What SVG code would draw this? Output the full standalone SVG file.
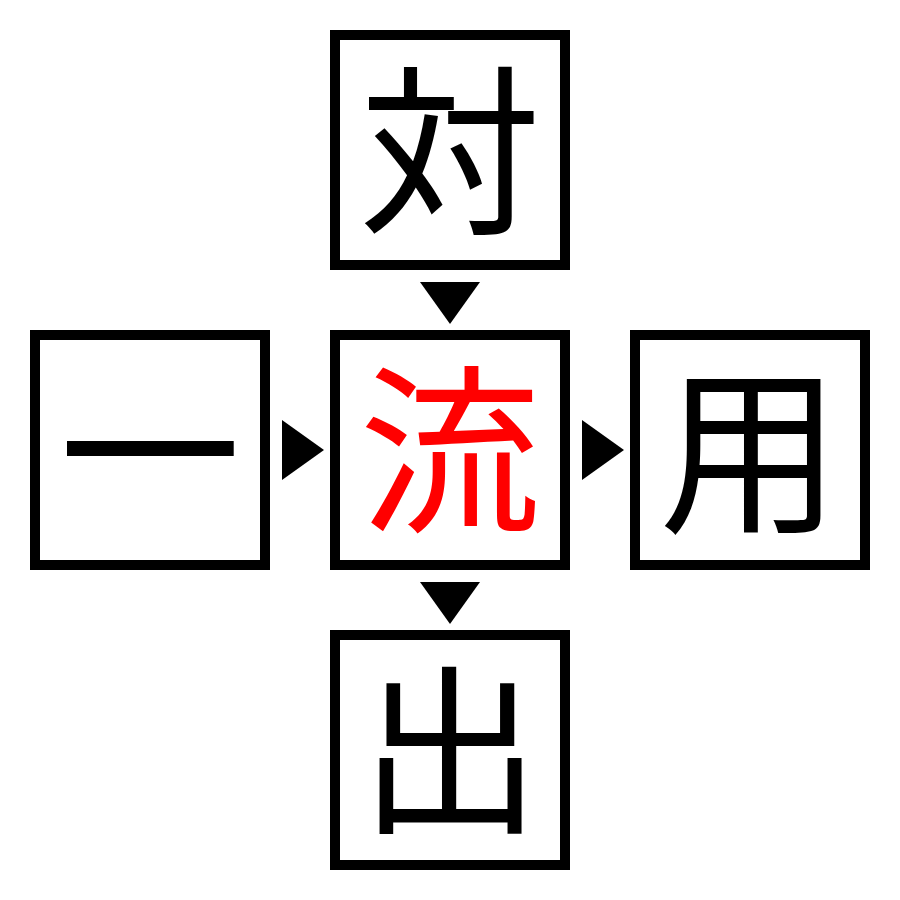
<svg xmlns="http://www.w3.org/2000/svg" width="900" height="900" viewBox="0 0 900 900">
<style>
.box{fill:#fff;stroke:#000;stroke-width:10}
.ch{font-family:"Noto Sans CJK JP","Noto Sans CJK SC",sans-serif;font-size:182px;text-anchor:middle;fill:#000}
.red{fill:#ff0000}
.arr{fill:#000}
</style>
<rect width="900" height="900" fill="#fff"/>
<g id="node-top"><rect class="box" x="335" y="35" width="230" height="230"/><text class="ch" x="450" y="220">対</text></g>
<g id="node-left"><rect class="box" x="35" y="335" width="230" height="230"/><text class="ch" x="150" y="519">一</text></g>
<g id="node-center"><rect class="box" x="335" y="335" width="230" height="230"/><text class="ch red" x="450" y="519">流</text></g>
<g id="node-right"><rect class="box" x="635" y="335" width="230" height="230"/><text class="ch" x="750" y="519">用</text></g>
<g id="node-bottom"><rect class="box" x="335" y="635" width="230" height="230"/><text class="ch" x="450" y="819">出</text></g>
<g id="connectors">
<polygon class="arr" points="420,282 480,282 450,324"/>
<polygon class="arr" points="282,420 324,450 282,480"/>
<polygon class="arr" points="582,420 624,450 582,480"/>
<polygon class="arr" points="420,582 480,582 450,624"/>
</g>
</svg>
